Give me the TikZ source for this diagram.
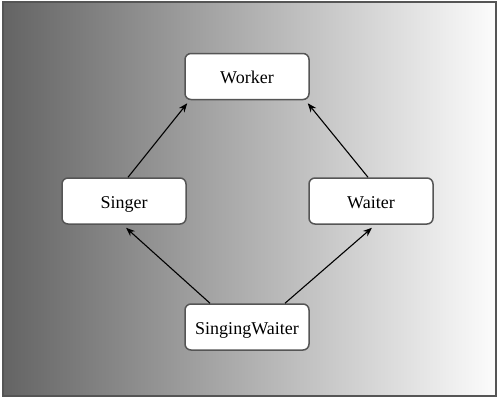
\documentclass[tikz,border=0pt]{standalone}
\usepackage{fontspec}
\setmainfont{Liberation Serif}
\usetikzlibrary{arrows.meta}
\definecolor{bgdark}{HTML}{646464}
\definecolor{bglight}{HTML}{FCFCFC}
\definecolor{frame}{HTML}{555555}
\tikzset{
  classbox/.style={draw=frame, line width=1.5pt, fill=white, rounded corners=6pt,
    minimum width=124pt, minimum height=46pt, inner sep=0pt,
    text height=16pt, text depth=2pt,
    font=\fontsize{18}{20}\selectfont},
  inherit/.style={-{Stealth[length=9pt,width=7pt]}, line width=1.1pt, black}
}
\begin{document}
\begin{tikzpicture}[x=1pt,y=1pt]
\useasboundingbox (0,0) rectangle (500,400);
\shade[left color=bgdark, right color=bglight] (3,4) rectangle (496,398);
\draw[frame, line width=2pt] (3,4) rectangle (496,398);
\node[classbox] (worker) at (247,323.5) {Worker};
\node[classbox] (singer) at (124,199) {Singer};
\node[classbox] (waiter) at (371,199) {Waiter};
\node[classbox] (sw) at (247,73) {SingingWaiter};
\draw[inherit] ([xshift=4pt]singer.north) -- ([xshift=3pt,yshift=-3pt]worker.south west);
\draw[inherit] ([xshift=-3pt]waiter.north) -- ([xshift=-2pt,yshift=-3pt]worker.south east);
\draw[inherit] ([xshift=-37pt]sw.north) -- ([xshift=2pt,yshift=-3pt]singer.south);
\draw[inherit] ([xshift=38pt]sw.north) -- ([xshift=1pt,yshift=-3pt]waiter.south);
\end{tikzpicture}
\end{document}
